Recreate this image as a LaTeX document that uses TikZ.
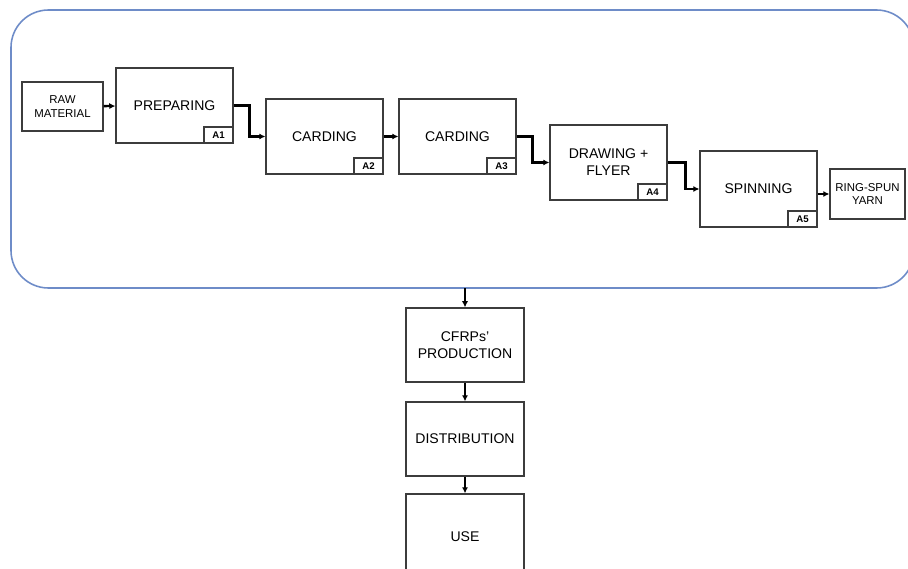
\documentclass[tikz,border=0pt]{standalone}
\usepackage{fontspec}
\setmainfont{Liberation Sans}
\usepackage{tikz}
\usetikzlibrary{arrows.meta,positioning,calc}
\definecolor{regionblue}{RGB}{110,140,200}
\definecolor{boxgray}{RGB}{60,60,60}

\begin{document}
\begin{tikzpicture}[x=0.02cm, y=-0.02cm,
  every node/.style={font=\fontsize{8}{9.6}\selectfont},
  proc/.style={rectangle, draw=boxgray, line width=0.7pt, align=center,
               minimum width=2.34cm, minimum height=1.5cm, inner sep=1pt},
  term/.style={rectangle, draw=boxgray, line width=0.7pt, align=center,
               font=\fontsize{6.5}{7.6}\selectfont, inner sep=1pt},
  tag/.style={rectangle, draw=boxgray, line width=0.7pt, anchor=south east,
              font=\fontsize{5.5}{6}\selectfont\bfseries,
              minimum width=0.58cm, minimum height=0.32cm, inner sep=0pt},
  flow/.style={-{Latex[length=3.5pt,width=3.5pt]}, line width=1.3pt, black},
  region/.style={draw=regionblue, line width=0.9pt, rounded corners=0.75cm}
]
  \clip (0,0) rectangle (908,568);
  % process area
  \draw[region] (11,10) rectangle (914,288);

  % fibre line
  \node[term, minimum width=1.62cm, minimum height=0.98cm] (raw) at (62.5,106.5) {RAW\\MATERIAL};
  \node[proc] (prep) at (174.5,105.5) {PREPARING};
  \node[proc] (card1) at (324.5,136.5) {CARDING};
  \node[proc] (card2) at (457.5,136.5) {CARDING};
  \node[proc] (draw) at (608.5,162.5) {DRAWING +\\FLYER};
  \node[proc, minimum height=1.52cm] (spin) at (758.5,189) {SPINNING};
  \node[term, minimum width=1.5cm, minimum height=1.0cm] (yarn) at (867.5,194) {RING-SPUN\\YARN};

  \node[tag] at (prep.south east) {A1};
  \node[tag] at (card1.south east) {A2};
  \node[tag] at (card2.south east) {A3};
  \node[tag] at (draw.south east) {A4};
  \node[tag] at (spin.south east) {A5};

  \draw[flow] (raw) -- (prep);
  \draw[flow] (prep.east) -- ++(16,0) |- (card1.west);
  \draw[flow] (card1) -- (card2);
  \draw[flow] (card2.east) -- ++(16,0) |- (draw.west);
  \draw[flow] (draw.east) -- ++(18,0) |- (spin.west);
  \draw[flow] (spin.east |- yarn.west) -- (yarn.west);

  % downstream
  \coordinate (exit) at (465,288);
  \node[proc, minimum width=2.36cm, minimum height=1.48cm] (cfrp) at (465,345) {CFRPs'\\PRODUCTION};
  \node[proc, minimum width=2.36cm, minimum height=1.48cm] (dist) at (465,439) {DISTRIBUTION};
  \node[proc, minimum width=2.36cm, minimum height=1.7cm] (use) at (465,536.5) {USE};

  \draw[flow] (exit) -- (cfrp);
  \draw[flow] (cfrp) -- (dist);
  \draw[flow] (dist) -- (use);
\end{tikzpicture}
\end{document}
